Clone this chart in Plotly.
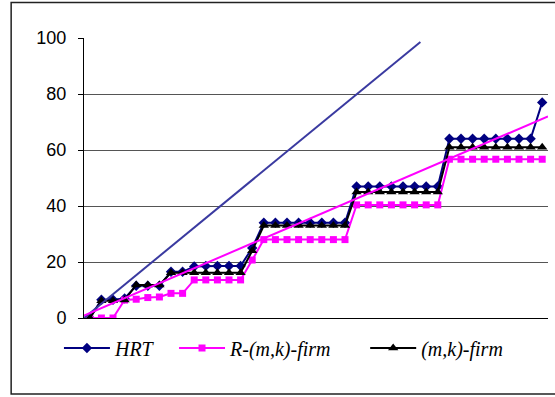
import plotly.graph_objects as go

# ---- data ----
x_index = list(range(40))
hrt = [0, 6.5, 6.5, 7, 11.5, 11.5, 11.5, 16.5, 16.5, 18.4, 18.6, 18.6, 18.6, 18.6, 25,
       34, 34, 34, 34, 34, 34, 34, 34,
       47, 47, 47, 47, 47, 47, 47, 47,
       64, 64, 64, 64, 64, 64, 64, 64, 77]
r_firm = [0, 0, 0, 6.4, 6.7, 7.3, 7.5, 8.8, 8.8, 13.6, 13.6, 13.6, 13.6, 13.6, 20.7,
          28, 28, 28, 28, 28, 28, 28, 28,
          40.4, 40.4, 40.4, 40.4, 40.4, 40.4, 40.4, 40.4,
          56.7, 56.7, 56.7, 56.7, 56.7, 56.7, 56.7, 56.7, 56.7]
mk_firm = [0, 6.2, 6.2, 6.4, 11.8, 11.8, 11.8, 16.2, 16.2, 16.2, 16.2, 16.2, 16.2, 16.2, 24,
           33, 33, 33, 33, 33, 33, 33, 33,
           45, 45, 45, 45, 45, 45, 45, 45,
           61, 61, 61, 61, 61, 61, 61, 61, 61]
diag_x = [-0.5, 28.5]
diag_y = [0, 98.6]
trend_x = [-0.5, 39.5]
trend_y = [0.9, 72.0]
y_ticks = [0, 20, 40, 60, 80, 100]

fig = go.Figure()
fig.add_trace(go.Scatter(x=x_index, y=hrt, mode="lines+markers", name="HRT", legend="legend",
                         line=dict(color="#000080", width=2),
                         marker=dict(symbol="diamond", size=8, color="#000080")))
fig.add_trace(go.Scatter(x=x_index, y=r_firm, mode="lines+markers", name="R-(m,k)-firm",
                         legend="legend2",
                         line=dict(color="#FF00FF", width=2),
                         marker=dict(symbol="square", size=7, color="#FF00FF")))
fig.add_trace(go.Scatter(x=x_index, y=mk_firm, mode="lines+markers", name="(m,k)-firm",
                         legend="legend3",
                         line=dict(color="#000000", width=2),
                         marker=dict(symbol="triangle-up", size=9, color="#000000")))
fig.add_trace(go.Scatter(x=diag_x, y=diag_y, mode="lines", showlegend=False,
                         line=dict(color="#3a3aa0", width=2)))
fig.add_trace(go.Scatter(x=trend_x, y=trend_y, mode="lines", showlegend=False,
                         line=dict(color="#FF00FF", width=2)))

legend_font = dict(family="Liberation Serif, Times New Roman", size=20, style="italic", color="black")
common_legend = dict(orientation="h", xanchor="left", y=-0.107, yanchor="middle",
                     font=legend_font, bgcolor="rgba(0,0,0,0)", itemwidth=46)

fig.update_layout(
    width=555, height=397,
    margin=dict(l=84, r=7, t=38, b=79),
    paper_bgcolor="white", plot_bgcolor="white",
    font=dict(family="Liberation Sans, Arial", color="black"),
    legend=dict(x=-0.054, **common_legend),
    legend2=dict(x=0.194, **common_legend),
    legend3=dict(x=0.606, **common_legend),
    shapes=[dict(type="rect", xref="paper", yref="paper",
                 x0=-0.157, x1=1.05, y0=-0.271, y1=1.1268,
                 line=dict(color="#222222", width=1.5), layer="below")],
)
fig.update_xaxes(range=[-0.5, 39.5], showline=True, linecolor="black", linewidth=1,
                 showgrid=False, zeroline=False, showticklabels=False, ticks="")
fig.update_yaxes(range=[0, 100], tickvals=y_ticks, showline=True, linecolor="black", linewidth=1,
                 showgrid=True, gridcolor="#555555", gridwidth=1, zeroline=False,
                 ticks="outside", ticklen=5, tickcolor="black",
                 tickfont=dict(size=18, family="Liberation Sans, Arial"),
                 ticklabelstandoff=8)

fig.write_html("out.html", config={"displayModeBar": False},
               post_script="document.body.style.margin='0';")
